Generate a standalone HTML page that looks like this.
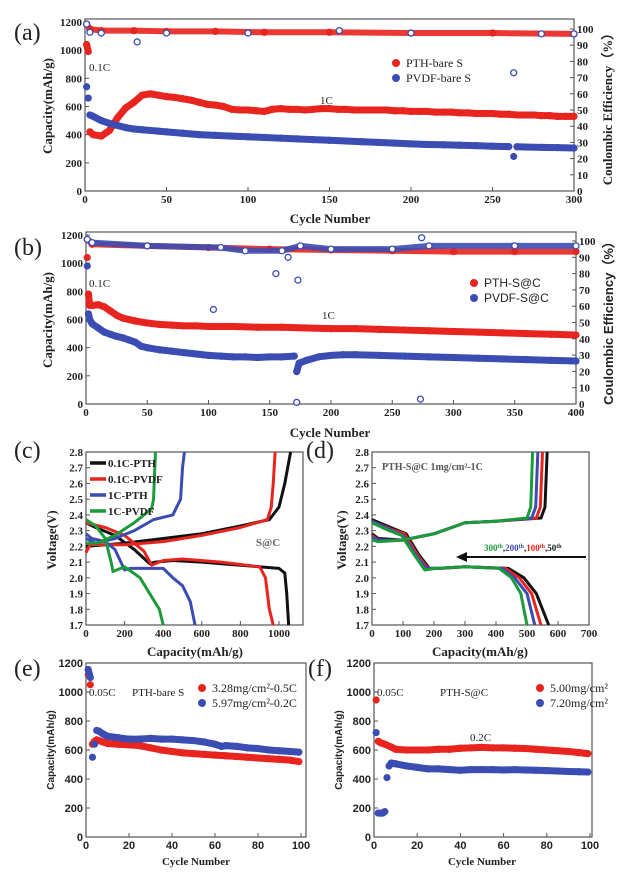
<!DOCTYPE html>
<html><head><meta charset="utf-8">
<style>
body{margin:0;background:#fff;}
svg{display:block;}
text{font-family:"Liberation Serif",serif;fill:#222;}
.tk{font-size:11px;font-weight:bold;}
.ttl{font-size:13px;font-weight:bold;}
.pl{font-size:24px;}
.sans{font-family:"Liberation Sans",sans-serif;}
</style></head>
<body>
<svg id="fig" width="625" height="874" viewBox="0 0 625 874" xmlns="http://www.w3.org/2000/svg"></svg>
<script>
// ---- panel (a) data: [cycle, value]
const aPthCap=[[1,1040],[2,990],[3,420],[5,400],[10,390],[15,430],[20,520],[25,590],[30,630],[35,680],[40,690],[45,680],[50,670],[55,665],[60,655],[65,645],[70,630],[75,615],[80,610],[85,600],[90,580],[95,575],[100,575],[105,570],[110,565],[115,580],[120,585],[125,580],[130,580],[135,575],[140,580],[145,585],[150,585],[155,580],[160,580],[165,575],[170,575],[175,575],[180,575],[185,575],[190,570],[195,570],[200,565],[205,565],[210,565],[215,560],[220,560],[225,560],[230,555],[235,555],[240,550],[245,550],[250,550],[255,545],[260,545],[265,540],[270,540],[275,540],[280,535],[285,535],[290,530],[295,530],[300,530]];
const aPvdfCap=[[1,740],[2,660],[3,540],[5,530],[10,500],[15,480],[20,465],[25,450],[30,440],[35,435],[40,430],[45,425],[50,420],[60,410],[70,400],[80,395],[90,390],[100,385],[110,380],[120,375],[130,370],[140,365],[150,360],[160,355],[170,350],[180,345],[190,340],[200,335],[210,330],[220,328],[230,325],[240,322],[250,318],[260,315],[263,245],[265,314],[270,312],[280,310],[290,308],[300,305]];
const aPthCE=[[1,103],[3,100],[10,99],[30,99],[50,98.5],[80,98.5],[110,98],[150,98],[200,97.5],[250,97.5],[300,97]];
const aPvdfCE=[[1,103],[3,98],[10,97.5],[32,92],[50,97.5],[100,97.5],[156,99],[200,97.5],[263,73],[280,97],[300,97]];
// ---- panel (b)
const bPthCap=[[1,1040],[2,780],[3,700],[5,700],[10,705],[15,690],[20,660],[25,630],[30,610],[35,600],[40,590],[50,575],[60,565],[70,560],[80,555],[90,555],[100,550],[120,550],[140,545],[160,545],[180,540],[200,535],[220,535],[240,530],[260,525],[280,520],[300,515],[320,510],[340,505],[360,500],[380,495],[400,490]];
const bPvdfCap=[[1,980],[2,640],[3,600],[5,570],[10,540],[15,510],[20,495],[25,480],[30,470],[35,455],[40,440],[45,410],[50,400],[60,385],[70,375],[80,365],[90,355],[100,345],[110,340],[120,335],[130,335],[140,330],[150,335],[160,335],[170,340],[172,230],[174,290],[180,310],[190,335],[200,345],[210,350],[220,350],[240,345],[260,340],[280,335],[300,330],[320,325],[340,320],[360,315],[380,310],[400,305]];
const bPthCE=[[1,101],[5,98],[50,97],[100,96],[150,95],[200,94.5],[250,94],[300,93.5],[350,93.5],[400,93.5]];
const bPvdfCE=[[1,101],[5,99],[50,97],[104,58],[110,96],[130,94],[155,80],[160,94],[165,90],[172,1],[173,76],[175,97],[200,95],[250,95],[273,3],[274,102],[280,97],[350,97],[400,97]];
// ---- panel (c) voltage profiles [capacity, V]
const c01PthDis=[[0,2.35],[50,2.32],[150,2.27],[250,2.18],[330,2.09],[360,2.10],[450,2.11],[600,2.10],[800,2.08],[1000,2.06],[1030,2.03],[1040,1.9],[1050,1.7]];
const c01PthChg=[[0,2.20],[200,2.22],[400,2.25],[600,2.28],[800,2.33],[950,2.37],[1000,2.45],[1030,2.6],[1045,2.7],[1060,2.8]];
const c01PvdfDis=[[0,2.35],[100,2.32],[200,2.27],[300,2.17],[340,2.08],[400,2.11],[500,2.12],[700,2.10],[900,2.07],[930,2.0],[950,1.8],[970,1.7]];
const c01PvdfChg=[[0,2.16],[20,2.21],[200,2.21],[400,2.23],[600,2.27],[800,2.32],[940,2.37],[960,2.45],[970,2.6],[980,2.8]];
const c1PthDis=[[0,2.28],[30,2.25],[100,2.23],[150,2.18],[200,2.05],[230,2.06],[400,2.06],[450,2.0],[500,1.95],[540,1.85],[565,1.7]];
const c1PthChg=[[0,2.25],[50,2.22],[150,2.25],[250,2.30],[350,2.37],[450,2.40],[490,2.5],[500,2.7],[510,2.8]];
const c1PvdfDis=[[0,2.37],[50,2.33],[100,2.25],[130,2.10],[140,2.04],[200,2.07],[280,2.0],[330,1.9],[380,1.8],[400,1.7]];
const c1PvdfChg=[[0,2.22],[60,2.22],[150,2.27],[250,2.35],[300,2.40],[340,2.44],[350,2.5],[360,2.8]];
// ---- panel (d)
const d50Dis=[[0,2.37],[60,2.32],[110,2.28],[150,2.15],[185,2.06],[220,2.06],[300,2.07],[440,2.06],[490,2.0],[530,1.9],[570,1.7]];
const d50Chg=[[0,2.28],[20,2.25],[100,2.24],[200,2.28],[300,2.35],[400,2.36],[545,2.38],[558,2.45],[565,2.8]];
const d100Dis=[[0,2.36],[60,2.31],[105,2.28],[145,2.15],[180,2.06],[215,2.06],[300,2.07],[430,2.06],[475,2.0],[515,1.9],[545,1.7]];
const d100Chg=[[0,2.27],[20,2.24],[100,2.24],[200,2.28],[300,2.35],[400,2.36],[530,2.38],[543,2.45],[550,2.8]];
const d200Dis=[[0,2.36],[55,2.31],[100,2.27],[140,2.15],[175,2.06],[210,2.06],[300,2.07],[420,2.06],[460,2.0],[500,1.9],[525,1.7]];
const d200Chg=[[0,2.26],[20,2.24],[100,2.24],[200,2.28],[300,2.35],[400,2.36],[515,2.38],[528,2.45],[535,2.8]];
const d300Dis=[[0,2.35],[55,2.30],[95,2.27],[135,2.15],[170,2.05],[205,2.06],[300,2.07],[410,2.06],[450,2.0],[480,1.9],[500,1.7]];
const d300Chg=[[0,2.24],[20,2.23],[100,2.24],[200,2.28],[300,2.35],[400,2.36],[500,2.38],[512,2.45],[518,2.8]];
// ---- panel (e)
const ePth=[[1,1120],[2,1050],[3,640],[4,660],[5,670],[6,665],[8,655],[10,645],[15,640],[20,635],[25,630],[30,615],[35,600],[40,590],[45,580],[50,575],[55,570],[60,565],[65,560],[70,555],[75,550],[80,545],[85,540],[90,535],[95,530],[99,520]];
const ePvdf=[[1,1155],[2,1100],[3,550],[4,640],[5,735],[6,730],[8,710],[10,695],[15,685],[20,675],[25,675],[30,680],[35,675],[40,675],[45,670],[50,665],[55,655],[60,640],[63,625],[65,630],[70,625],[75,615],[80,610],[85,600],[90,595],[95,590],[99,585]];
// ---- panel (f)
const fRed=[[1,945],[2,660],[3,650],[5,640],[8,620],[10,605],[15,600],[20,600],[25,600],[30,605],[35,605],[40,612],[45,615],[50,618],[55,615],[60,615],[65,612],[70,610],[75,605],[80,600],[85,595],[90,590],[95,582],[99,575]];
const fBlue=[[1,720],[2,165],[3,165],[4,165],[5,175],[6,410],[7,490],[8,510],[10,505],[15,490],[20,480],[25,470],[30,470],[35,465],[40,460],[45,465],[50,465],[55,465],[60,462],[65,465],[70,462],[75,460],[80,458],[85,455],[90,452],[95,450],[99,448]];
const capTicks=[0,200,400,600,800,1000,1200];
const ceTicks=[0,10,20,30,40,50,60,70,80,90,100];
const vTicks=[1.7,1.8,1.9,2.0,2.1,2.2,2.3,2.4,2.5,2.6,2.7,2.8];

const RED="#e8241f",BLUE="#3b4db3",GREEN="#1c9a3c",BLACK="#111";
const svg=document.getElementById('fig');
const NS="http://www.w3.org/2000/svg";
function mk(tag,attrs,parent){const e=document.createElementNS(NS,tag);for(const k in attrs)e.setAttribute(k,attrs[k]);(parent||svg).appendChild(e);return e;}
function txt(x,y,s,cls,anchor,parent){const t=mk('text',{x:x,y:y,class:cls||'tk','text-anchor':anchor||'start'},parent);t.textContent=s;return t;}
function lin(d0,d1,r0,r1){return v=>r0+(v-d0)*(r1-r0)/(d1-d0);}

function panel(name,L,R,T,B,xs,ys,xt,yt,opt){
  const g=mk('g',{});
  
  
  const box=mk('rect',{x:L,y:T,width:R-L,height:B-T,fill:'none',stroke:'#555','stroke-width':1.2},g);
  
  
  const cls=opt.sans?'tk sans':'tk';
  xt.forEach(v=>{const x=xs(v);mk('line',{x1:x,x2:x,y1:B,y2:B-4,stroke:'#555'},g);
    const t=txt(x,B+12,String(v),cls,'middle',g);});
  yt.forEach(v=>{const y=ys(v);mk('line',{x1:L,x2:L+4,y1:y,y2:y,stroke:'#555'},g);
    const t=txt(L-3,y+4,opt.fmt?opt.fmt(v):String(v),cls,'end',g);});
  if(opt.rs){ceTicks.forEach(v=>{const y=opt.rs(v);mk('line',{x1:R,x2:R-4,y1:y,y2:y,stroke:'#555'},g);
    const t=txt(R+3,y+4,String(v),'tk','start',g);});}
  return g;
}
function scatter(name,data,xs,ys,color,g,band){
  const s=mk('g',{},g);
  
  
  for(let i=1;i<data.length;i++){
    if(Math.abs(data[i][1]-data[i-1][1])<band){
      mk('line',{x1:xs(data[i-1][0]),y1:ys(data[i-1][1]),x2:xs(data[i][0]),y2:ys(data[i][1]),stroke:color,'stroke-width':7,'stroke-linecap':'round'},s);
    }
  }
  data.forEach(p=>{const c=mk('circle',{cx:xs(p[0]),cy:ys(p[1]),r:3.6,fill:color},s);
    });
}
function ce(name,data,xs,ys,color,filled,g){
  const s=mk('g',{},g);
  
  
  let last=data[0];
  for(let i=1;i<data.length;i++){
    if(Math.abs(data[i][1]-last[1])<4){
      mk('line',{x1:xs(last[0]),y1:ys(last[1]),x2:xs(data[i][0]),y2:ys(data[i][1]),stroke:color,'stroke-width':6,'stroke-linecap':'round','opacity':0.9},s);
      last=data[i];
    }
  }
  data.forEach(p=>{const c=mk('circle',{cx:xs(p[0]),cy:ys(p[1]),r:3,fill:filled?color:'#fff',stroke:color,'stroke-width':1.3},s);
    });
}
function curve(name,data,xs,ys,color,g){
  const p=mk('polyline',{points:data.map(d=>xs(d[0])+','+ys(d[1])).join(' '),fill:'none',stroke:color,'stroke-width':3,'stroke-linejoin':'round'},g);
  
  
}
function legendDot(x,y,color,label,g,cls){
  const c=mk('circle',{cx:x,cy:y,r:4,fill:color},g);
  
  const t=txt(x+10,y+4,label,cls||'tk',null,g);t.style.fontWeight='normal';t.style.fontSize='12px';
  
}
function label(x,y,s,cls,anchor,name,rot){
  const t=txt(x,y,s,cls,anchor);
  if(rot)t.setAttribute('transform','rotate(-90 '+x+' '+y+')');
  
  return t;
}

// ===== (a)
{const xs=lin(0,300,85,574),ys=lin(0,1200,191,22),rs=lin(0,100,191,29);
 const g=panel('panel-a',85,574,19,191,xs,ys,[0,50,100,150,200,250,300],capTicks,{rs:rs});
 ce('a-pth-ce',aPthCE,xs,rs,RED,true,g);
 ce('a-pvdf-ce',aPvdfCE,xs,rs,BLUE,false,g);
 scatter('a-pth-capacity',aPthCap,xs,ys,RED,g,120);
 scatter('a-pvdf-capacity',aPvdfCap,xs,ys,BLUE,g,65);
 legendDot(396,63,RED,'PTH-bare S',g);legendDot(396,78,BLUE,'PVDF-bare S',g);
 label(89,71,'0.1C','tk','start','rate-label-01c').style.fontWeight='normal';
 label(320,104,'1C','tk','start','rate-label-1c').style.fontWeight='normal';
 label(14,40,'(a)','pl','start','panel-a-label');
 label(330,223,'Cycle Number','ttl','middle','a-x-axis-title');
 label(52,106,'Capacity(mAh/g)','ttl','middle','a-y-axis-title',true);
 label(612,106,'Coulombic Efficiency（%）','ttl','middle','a-right-axis-title',true);
}
// ===== (b)
{const xs=lin(0,400,86,576),ys=lin(0,1200,404,235),rs=lin(0,100,404,241);
 const g=panel('panel-b',86,576,232,404,xs,ys,[0,50,100,150,200,250,300,350,400],capTicks,{rs:rs});
 ce('b-pth-ce',bPthCE,xs,rs,RED,true,g);
 ce('b-pvdf-ce',bPvdfCE,xs,rs,BLUE,false,g);
 scatter('b-pth-capacity',bPthCap,xs,ys,RED,g,100);
 scatter('b-pvdf-capacity',bPvdfCap,xs,ys,BLUE,g,65);
 legendDot(474,283,RED,'PTH-S@C',g,'tk sans');legendDot(474,298,BLUE,'PVDF-S@C',g,'tk sans');
 label(89,287,'0.1C','tk','start','b-rate-label-01c').style.fontWeight='normal';
 label(322,319,'1C','tk','start','b-rate-label-1c').style.fontWeight='normal';
 label(14,255,'(b)','pl','start','panel-b-label');
 label(330,437,'Cycle Number','ttl','middle','b-x-axis-title');
 label(52,320,'Capacity(mAh/g)','ttl','middle','b-y-axis-title',true);
 label(613,320,'Coulombic Efficiency（%）','ttl sans','middle','b-right-axis-title',true);
}
// ===== (c)
{const xs=lin(0,1000,86,279),ys=lin(1.7,2.8,625,452);
 const g=panel('panel-c',86,303,452,625,xs,ys,[0,200,400,600,800,1000],vTicks,{fmt:v=>v.toFixed(1)});
 curve('c-01c-pth-discharge',c01PthDis,xs,ys,BLACK,g);curve('c-01c-pth-charge',c01PthChg,xs,ys,BLACK,g);
 curve('c-01c-pvdf-discharge',c01PvdfDis,xs,ys,RED,g);curve('c-01c-pvdf-charge',c01PvdfChg,xs,ys,RED,g);
 curve('c-1c-pth-discharge',c1PthDis,xs,ys,BLUE,g);curve('c-1c-pth-charge',c1PthChg,xs,ys,BLUE,g);
 curve('c-1c-pvdf-discharge',c1PvdfDis,xs,ys,GREEN,g);curve('c-1c-pvdf-charge',c1PvdfChg,xs,ys,GREEN,g);
 [['0.1C-PTH',BLACK],['0.1C-PVDF',RED],['1C-PTH',BLUE],['1C-PVDF',GREEN]].forEach((l,i)=>{
   const y=463+i*16;const ln=mk('line',{x1:90,x2:106,y1:y,y2:y,stroke:l[1],'stroke-width':3.5},g);
   
   const t=txt(108,y+4,l[0],'tk',null,g);});
 label(268,546,'S@C','tk','middle','c-annotation').style.fill='#666';
 label(14,458,'(c)','pl','start','panel-c-label');
 label(195,656,'Capacity(mAh/g)','ttl','middle','c-x-axis-title');
 label(56,540,'Voltage(V)','ttl','middle','c-y-axis-title',true);
}
// ===== (d)
{const xs=lin(0,700,372,589),ys=lin(1.7,2.8,625,452);
 const g=panel('panel-d',372,589,452,625,xs,ys,[0,100,200,300,400,500,600,700],vTicks,{fmt:v=>v.toFixed(1)});
 curve('d-50th-discharge',d50Dis,xs,ys,BLACK,g);curve('d-50th-charge',d50Chg,xs,ys,BLACK,g);
 curve('d-100th-discharge',d100Dis,xs,ys,RED,g);curve('d-100th-charge',d100Chg,xs,ys,RED,g);
 curve('d-200th-discharge',d200Dis,xs,ys,BLUE,g);curve('d-200th-charge',d200Chg,xs,ys,BLUE,g);
 curve('d-300th-discharge',d300Dis,xs,ys,GREEN,g);curve('d-300th-charge',d300Chg,xs,ys,GREEN,g);
 const a=label(382,470,'PTH-S@C  1mg/cm²-1C','tk','start','d-annotation');a.style.fontSize='10px';a.style.fill='#555';
 const t=mk('text',{x:484,y:551,class:'tk'});t.style.fontSize='9px';
 
 t.innerHTML='<tspan fill="#1c9a3c">300<tspan font-size="6" dy="-3">th</tspan></tspan><tspan dy="3">,</tspan><tspan fill="#3b4db3">200<tspan font-size="6" dy="-3">th</tspan></tspan><tspan dy="3">,</tspan><tspan fill="#e8241f">100<tspan font-size="6" dy="-3">th</tspan></tspan><tspan dy="3">,50</tspan><tspan font-size="6" dy="-3">th</tspan>';
 const ar=mk('line',{x1:586,y1:557,x2:464,y2:557,stroke:'#111','stroke-width':2},g);
 
 const ah=mk('polygon',{points:'456,557 467,552 467,562',fill:'#111'},g);
 
 label(306,458,'(d)','pl','start','panel-d-label');
 label(480,656,'Capacity(mAh/g)','ttl','middle','d-x-axis-title');
 label(346,540,'Voltage(V)','ttl','middle','d-y-axis-title',true);
}
// ===== (e)
{const xs=lin(0,100,86,301),ys=lin(0,1200,837,663);
 const g=panel('panel-e',86,306,663,837,xs,ys,[0,20,40,60,80,100],capTicks,{sans:true});
 scatter('e-328-series',ePth,xs,ys,RED,g,60);
 scatter('e-597-series',ePvdf,xs,ys,BLUE,g,60);
 legendDot(202,688,RED,'3.28mg/cm²-0.5C',g);legendDot(202,703,BLUE,'5.97mg/cm²-0.2C',g);
 label(89,696,'0.05C','tk','start','e-rate-label').style.fontWeight='normal';
 label(132,696,'PTH-bare S','tk','start','e-annotation').style.fontWeight='normal';
 label(14,676,'(e)','pl','start','panel-e-label');
 label(196,865,'Cycle Number','ttl','middle','e-x-axis-title').style.fontSize='11px';
 label(54,750,'Capacity(mAh/g)','ttl sans','middle','e-y-axis-title',true).style.fontSize='10px';
}
// ===== (f)
{const xs=lin(0,100,374,590),ys=lin(0,1200,837,663);
 const g=panel('panel-f',374,592,663,837,xs,ys,[0,20,40,60,80,100],capTicks,{sans:true});
 scatter('f-500-series',fRed,xs,ys,RED,g,60);
 scatter('f-720-series',fBlue,xs,ys,BLUE,g,60);
 legendDot(540,688,RED,'5.00mg/cm²',g);legendDot(540,703,BLUE,'7.20mg/cm²',g);
 label(377,696,'0.05C','tk','start','f-rate-label').style.fontWeight='normal';
 label(440,696,'PTH-S@C','tk','start','f-annotation').style.fontWeight='normal';
 label(470,741,'0.2C','tk','start','f-rate-label-02c').style.fontWeight='normal';
 label(308,676,'(f)','pl','start','panel-f-label');
 label(482,865,'Cycle Number','ttl','middle','f-x-axis-title').style.fontSize='11px';
 label(342,750,'Capacity(mAh/g)','ttl sans','middle','f-y-axis-title',true).style.fontSize='10px';
}
</script>
</body></html>
